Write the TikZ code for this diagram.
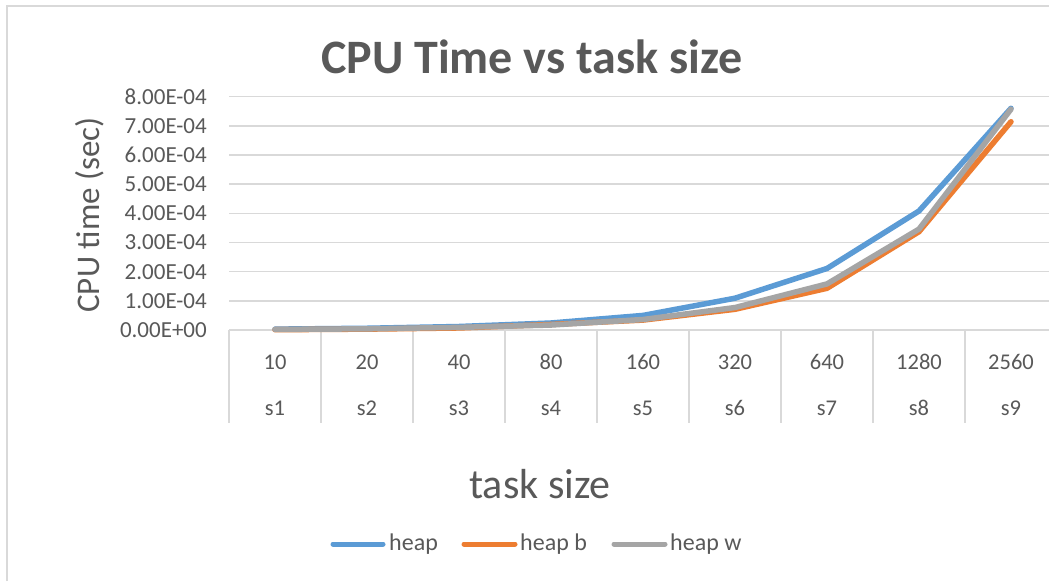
\documentclass[tikz,border=0pt]{standalone}
\usepackage{fontspec}
\setmainfont{Carlito}
\definecolor{txt}{HTML}{595959}
\definecolor{grid}{HTML}{D9D9D9}
\definecolor{cblue}{HTML}{5B9BD5}
\definecolor{corange}{HTML}{ED7D31}
\definecolor{cgray}{HTML}{A5A5A5}
\tikzset{
  ticklbl/.style={text=txt, font=\fontsize{23}{27}\selectfont, inner sep=0pt},
  catlbl/.style={text=txt, font=\fontsize{22.5}{27}\selectfont, inner sep=0pt, anchor=center},
  gridline/.style={draw=grid, line width=1.6pt},
  series/.style={line width=5.5pt, line cap=round, line join=round},
  leglbl/.style={text=txt, font=\fontsize{24}{28}\selectfont, inner sep=0pt, anchor=west},
}
\begin{document}
\begin{tikzpicture}[x=1pt,y=-1pt]
\useasboundingbox (0,0) rectangle (1049,581);
\fill[white] (0,0) rectangle (1049,581);
% chart border (cropped right/bottom)
\draw[grid, line width=1.8pt] (7,581) -- (7,6) -- (1049,6);
% title
\node[text=txt, font=\fontsize{48}{56}\selectfont\bfseries, inner sep=0pt] (title) at (532,57) {CPU Time vs task size};
% gridlines and y labels
\foreach \i/\lab in {0/0.00E+00,1/1.00E-04,2/2.00E-04,3/3.00E-04,4/4.00E-04,5/5.00E-04,6/6.00E-04,7/7.00E-04,8/8.00E-04}{
  \draw[gridline] (229,330-29.17*\i) -- (1049,330-29.17*\i);
  \node[ticklbl, anchor=east] (y\i) at (207,330-29.17*\i) {\lab};
}
% category separators
\foreach \k in {0,...,8}{
  \draw[gridline] (229+92*\k,330) -- (229+92*\k,423);
}
% category labels
\foreach \k/\n in {1/10,2/20,3/40,4/80,5/160,6/320,7/640,8/1280,9/2560}{
  \node[catlbl] (c\k) at (183+92*\k,362) {\n};
  \node[catlbl] (s\k) at (183+92*\k,408) {s\k};
}
% axis titles
\node[text=txt, font=\fontsize{33}{38}\selectfont, inner sep=0pt, rotate=90] (ytitle) at (90,215) {CPU time (sec)};
\node[text=txt, font=\fontsize{42}{48}\selectfont, inner sep=0pt] (xtitle) at (540,484) {task size};
% data series
\begin{scope}[shift={(275pt,-330pt)}, x=92pt, y=29.17pt]
\draw[series, cblue] plot coordinates {(0,0.03) (1,0.06) (2,0.12) (3,0.24) (4,0.50) (5,1.09) (6,2.11) (7,4.08) (8,7.60)};
\draw[series, corange] plot coordinates {(0,0.01) (1,0.03) (2,0.07) (3,0.19) (4,0.34) (5,0.71) (6,1.43) (7,3.37) (8,7.14)};
\draw[series, cgray] plot coordinates {(0,0.02) (1,0.04) (2,0.09) (3,0.17) (4,0.36) (5,0.77) (6,1.58) (7,3.46) (8,7.57)};
\end{scope}
% legend
\coordinate (l1a) at (333,544); \coordinate (l1b) at (383,544);
\coordinate (l2a) at (464,544); \coordinate (l2b) at (515,544);
\coordinate (l3a) at (614,544); \coordinate (l3b) at (665,544);
\draw[series, line width=5pt, cblue] (l1a) -- (l1b);
\draw[series, line width=5pt, corange] (l2a) -- (l2b);
\draw[series, line width=5pt, cgray] (l3a) -- (l3b);
\node[leglbl] (leg1) at (389,544) {heap};
\node[leglbl] (leg2) at (520,544) {heap b};
\node[leglbl] (leg3) at (670,544) {heap w};
\end{tikzpicture}
\end{document}
